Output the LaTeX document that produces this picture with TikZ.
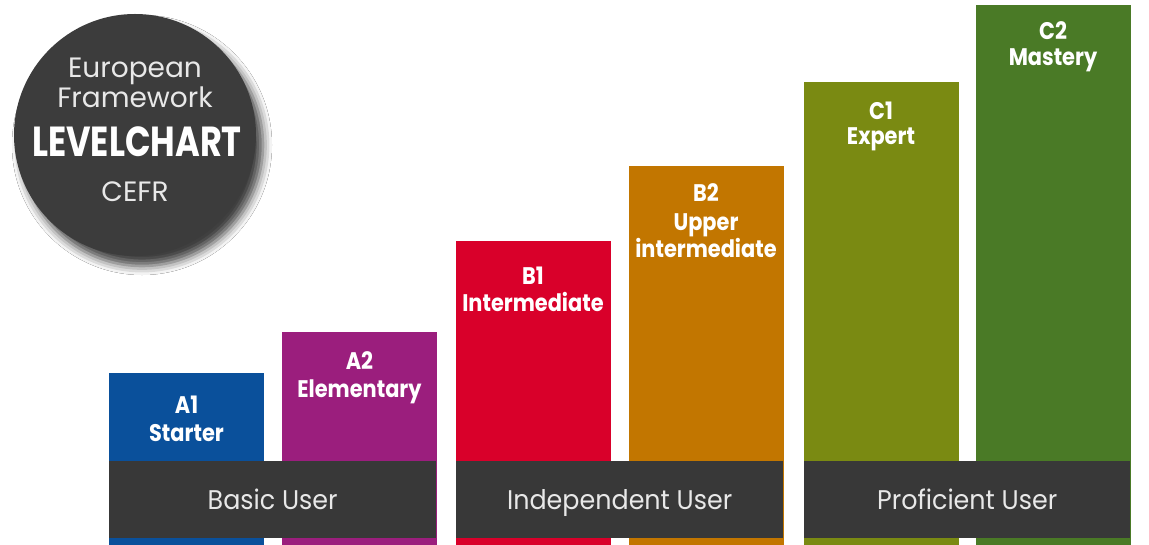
\documentclass[tikz,border=0pt]{standalone}
\usepackage{fontspec}
\setmainfont{Poppins}
\newfontfamily\chartfont{Poppins}[FakeStretch=0.8]
\newfontfamily\labelfont{Poppins}[FakeStretch=0.87]
\newfontfamily\bandfont{Poppins}[FakeStretch=0.94]
\usetikzlibrary{shadows.blur}
\definecolor{levelblue}{RGB}{10,80,155}
\definecolor{levelpurple}{RGB}{155,30,125}
\definecolor{levelred}{RGB}{217,0,42}
\definecolor{levelorange}{RGB}{194,118,0}
\definecolor{levelolive}{RGB}{122,138,18}
\definecolor{levelgreen}{RGB}{74,122,38}
\definecolor{banddark}{RGB}{56,56,56}
\definecolor{badgedark}{RGB}{60,60,60}
\definecolor{badgetext}{RGB}{232,232,232}

\tikzset{
  levelbar/.style={anchor=north west, minimum width=155pt, inner sep=0pt, outer sep=0pt},
  levelcode/.style={anchor=base, text=white, inner sep=0pt, font=\labelfont\bfseries\fontsize{24}{24}\selectfont},
  userband/.style={anchor=north west, fill=banddark, minimum height=77pt, inner sep=0pt,
    text=badgetext, text height=19pt, text depth=0pt, font=\bandfont\fontsize{27}{27}\selectfont},
  badgeline/.style={anchor=base, text=badgetext, inner sep=0pt, font=\fontsize{28}{28}\selectfont}
}

\begin{document}
\begin{tikzpicture}[x=1pt, y=-1pt]
    \useasboundingbox[fill=white] (0,0) rectangle (1149,545);

    % Badge circle
    \node[circle, fill=badgedark, minimum size=242pt, inner sep=0pt,
          blur shadow={shadow xshift=7pt, shadow yshift=-10pt, shadow blur radius=9pt, shadow opacity=75}]
          (badge) at (135,135) {};
    \node[badgeline] (european) at (135,78) {European};
    \node[badgeline] (framework) at (135,108) {Framework};
    \node[badgeline, font=\chartfont\bfseries\fontsize{42}{42}\selectfont, text=white] (levelchart) at (137,157) {LEVELCHART};
    \node[badgeline] (cefr) at (135,202) {CEFR};

    % Level bars
    \node[levelbar, fill=levelblue, minimum height=172pt] (a1) at (109,373) {};
    \node[levelbar, fill=levelpurple, minimum height=213pt] (a2) at (282,332) {};
    \node[levelbar, fill=levelred, minimum height=304pt] (b1) at (456,241) {};
    \node[levelbar, fill=levelorange, minimum height=379pt] (b2) at (629,166) {};
    \node[levelbar, fill=levelolive, minimum height=463pt] (c1) at (804,82) {};
    \node[levelbar, fill=levelgreen, minimum height=540pt] (c2) at (976,5) {};

    % Level labels
    \node[levelcode] (a1code) at (186.5,413) {A1};
    \node[levelcode] (a1name) at (186.5,441) {Starter};
    \node[levelcode] (a2code) at (359.5,370) {A2};
    \node[levelcode] (a2name) at (359.5,397) {Elementary};
    \node[levelcode] (b1code) at (533,285) {B1};
    \node[levelcode] (b1name) at (533,312) {Intermediate};
    \node[levelcode] (b2code) at (706,202) {B2};
    \node[levelcode] (b2name) at (706,231) {Upper};
    \node[levelcode] (b2name2) at (706,258) {intermediate};
    \node[levelcode] (c1code) at (881,120) {C1};
    \node[levelcode] (c1name) at (881,145) {Expert};
    \node[levelcode] (c2code) at (1053,40) {C2};
    \node[levelcode] (c2name) at (1053,66) {Mastery};

    % User bands
    \node[userband, minimum width=327pt] (basic) at (109,461) {Basic User};
    \node[userband, minimum width=327pt] (independent) at (456,461) {Independent User};
    \node[userband, minimum width=326pt] (proficient) at (804,461) {Proficient User};
\end{tikzpicture}
\end{document}
